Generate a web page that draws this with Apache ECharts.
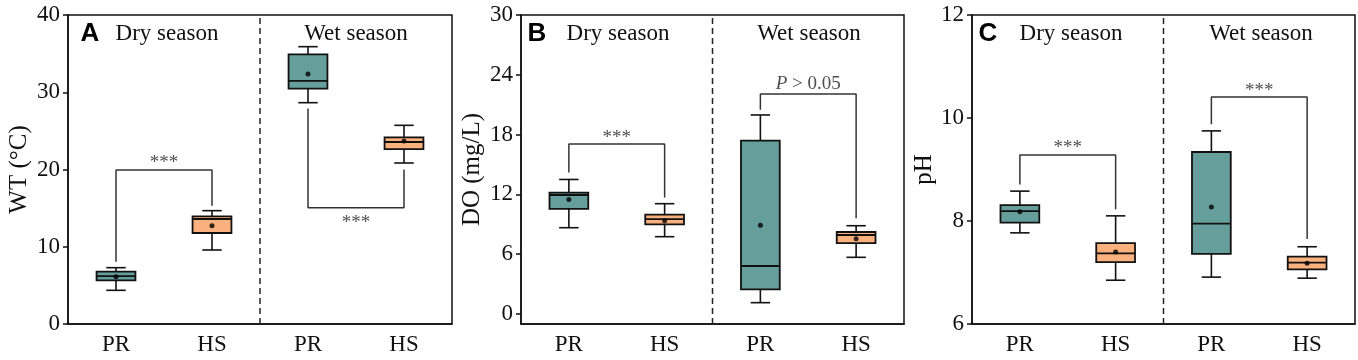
<!DOCTYPE html>
<html>
<head>
<meta charset="utf-8">
<script src="https://cdn.jsdelivr.net/npm/echarts@6/dist/echarts.min.js"></script>
<style>
  html, body { margin: 0; padding: 0; background: #fff; }
  #chart { width: 1358px; height: 360px; }
</style>
</head>
<body>
<div id="chart"></div>
<script>
// categories on every panel
var categories = ['PR', 'HS', 'PR', 'HS'];

// box stats: [low whisker, Q1, median, Q3, high whisker]
var wtBox = [[4.36, 5.65, 6.21, 6.77, 7.29], [9.58, 11.78, 13.59, 13.94, 14.67],
             [28.65, 30.46, 31.46, 34.9, 35.9], [20.84, 22.65, 23.56, 24.16, 25.72]];
var wtMean = [6.13, 12.73, 32.36, 23.69];

var doBox = [[8.66, 10.54, 11.94, 12.17, 13.5], [7.76, 9.0, 9.53, 9.97, 11.07],
             [1.14, 2.47, 4.82, 17.39, 19.97], [5.69, 7.12, 7.93, 8.23, 8.86]];
var doMean = [11.5, 9.36, 8.9, 7.56];

var phBox = [[7.77, 7.97, 8.19, 8.31, 8.58], [6.85, 7.20, 7.37, 7.57, 8.10],
             [6.91, 7.36, 7.95, 9.34, 9.75], [6.89, 7.06, 7.19, 7.31, 7.50]];
var phMean = [8.18, 7.40, 8.27, 7.18];

// brackets: [x0, leg0 end, bar level, x1, leg1 end]
var wtBrackets = [[0, 8.07, 19.94, 1, 15.3], [2, 27.9, 15.06, 3, 20.0]];
var doBrackets = [[0, 14.2, 17.06, 1, 11.7], [2, 20.5, 22.07, 3, 9.6]];
var phBrackets = [[0, 8.71, 9.28, 1, 8.23], [2, 9.88, 10.41, 3, 7.65]];

// significance labels: [x, y, text]
var wtSig = [[0.5, 20.8, '***'], [2.5, 13.07, '***']];
var doSig = [[0.5, 17.7, '***'], [2.5, 23.1, '{i|P} > 0.05']];
var phSig = [[0.5, 9.42, '***'], [2.5, 10.53, '***']];

// y axis ticks
var wtTicks = [0, 10, 20, 30, 40];
var doTicks = [0, 6, 12, 18, 24, 30];
var phTicks = [6, 8, 10, 12];

var TEAL = '#669e9b';
var ORANGE = '#fbb17d';
var INK = '#111';
var SERIF = '"Liberation Serif", "Times New Roman", serif';

var panels = [
  {name: 'WT (°C)', box: wtBox, mean: wtMean, br: wtBrackets, sig: wtSig, ticks: wtTicks, min: 0, max: 40,
   left: 68, width: 384, nameGap: 36, letter: 'A', letterX: 90, dryX: 167, wetX: 356},
  {name: 'DO (mg/L)', box: doBox, mean: doMean, br: doBrackets, sig: doSig, ticks: doTicks, min: -1, max: 30,
   left: 521, width: 383, nameGap: 36, letter: 'B', letterX: 537, dryX: 618, wetX: 809},
  {name: 'pH', box: phBox, mean: phMean, br: phBrackets, sig: phSig, ticks: phTicks, min: 6, max: 12,
   left: 972, width: 383, nameGap: 34, letter: 'C', letterX: 988, dryX: 1071, wetX: 1261}
];

function renderBox(params, api) {
  var x = api.value(0);
  var lo = api.coord([x, api.value(1)]);
  var q1 = api.coord([x, api.value(2)]);
  var md = api.coord([x, api.value(3)]);
  var q3 = api.coord([x, api.value(4)]);
  var hi = api.coord([x, api.value(5)]);
  var w = api.size([1, 0])[0] * 0.405;
  var cx = lo[0];
  var fill = x % 2 === 0 ? TEAL : ORANGE;
  var st = {stroke: INK, lineWidth: 1.6};
  return {
    type: 'group',
    children: [
      {type: 'line', shape: {x1: cx, y1: hi[1], x2: cx, y2: q3[1]}, style: st},
      {type: 'line', shape: {x1: cx, y1: q1[1], x2: cx, y2: lo[1]}, style: st},
      {type: 'line', shape: {x1: cx - w / 4, y1: hi[1], x2: cx + w / 4, y2: hi[1]}, style: st},
      {type: 'line', shape: {x1: cx - w / 4, y1: lo[1], x2: cx + w / 4, y2: lo[1]}, style: st},
      {type: 'rect', shape: {x: cx - w / 2, y: q3[1], width: w, height: q1[1] - q3[1]},
       style: {fill: fill, stroke: INK, lineWidth: 1.8}},
      {type: 'line', shape: {x1: cx - w / 2, y1: md[1], x2: cx + w / 2, y2: md[1]}, style: {stroke: INK, lineWidth: 1.8}}
    ]
  };
}

var grid = [], xAxis = [], yAxis = [], series = [], graphic = [];

panels.forEach(function (p, i) {
  grid.push({left: p.left, width: p.width, top: 15, height: 309,
    show: true, borderColor: INK, borderWidth: 1.5, backgroundColor: 'transparent'});

  // category axis for the boxes
  xAxis.push({
    type: 'category', gridIndex: i, data: categories,
    axisLine: {onZero: false, lineStyle: {color: INK, width: 1.5}},
    axisTick: {alignWithLabel: true, length: 5, lineStyle: {color: INK, width: 1.5}},
    axisLabel: {color: INK, fontFamily: SERIF, fontSize: 23, margin: 9}
  });
  // hidden value axis for brackets, divider and labels
  xAxis.push({type: 'value', gridIndex: i, min: -0.5, max: 3.5, show: false});

  yAxis.push({
    type: 'value', gridIndex: i, min: p.min, max: p.max,
    name: p.name, nameLocation: 'middle', nameGap: p.nameGap,
    nameTextStyle: {color: INK, fontFamily: SERIF, fontSize: 25},
    splitLine: {show: false},
    axisLine: {show: true, onZero: false, lineStyle: {color: INK, width: 1.5}},
    axisTick: {show: true, length: 5, customValues: p.ticks, lineStyle: {color: INK, width: 1.5}},
    axisLabel: {color: INK, fontFamily: SERIF, fontSize: 23, margin: 8, customValues: p.ticks}
  });

  series.push({
    type: 'custom', xAxisIndex: 2 * i, yAxisIndex: i,
    renderItem: renderBox,
    encode: {x: 0, y: [1, 2, 3, 4, 5]},
    data: p.box.map(function (b, k) { return [k].concat(b); }),
    z: 3
  });
  series.push({
    type: 'scatter', xAxisIndex: 2 * i, yAxisIndex: i,
    symbolSize: 5, itemStyle: {color: '#000'},
    data: p.mean.map(function (m, k) { return [k, m]; }),
    z: 5
  });

  // dashed divider between seasons
  series.push({
    type: 'line', xAxisIndex: 2 * i + 1, yAxisIndex: i,
    data: [[1.5, p.min], [1.5, p.max]], symbol: 'none',
    lineStyle: {color: '#222', width: 1.5, type: [6, 4]}, z: 2
  });

  p.br.forEach(function (b) {
    series.push({
      type: 'line', xAxisIndex: 2 * i + 1, yAxisIndex: i, symbol: 'none',
      data: [[b[0], b[1]], [b[0], b[2]], [b[3], b[2]], [b[3], b[4]]],
      lineStyle: {color: '#333', width: 1.5}, z: 2
    });
  });

  series.push({
    type: 'scatter', xAxisIndex: 2 * i + 1, yAxisIndex: i,
    symbolSize: 0,
    data: p.sig,
    label: {
      show: true, position: 'inside',
      formatter: function (d) { return d.value[2]; },
      color: '#222', fontFamily: SERIF, fontSize: 19,
      rich: {i: {fontStyle: 'italic', fontFamily: SERIF, fontSize: 19, color: '#222'}}
    },
    z: 6
  });

  graphic.push({type: 'text', x: p.letterX, y: 34,
    style: {text: p.letter, font: 'bold 26px "Liberation Sans", Arial, sans-serif', fill: '#000',
      textAlign: 'center', textVerticalAlign: 'middle'}});
  graphic.push({type: 'text', x: p.dryX, y: 34,
    style: {text: 'Dry season', font: '23px ' + SERIF, fill: INK, textAlign: 'center', textVerticalAlign: 'middle'}});
  graphic.push({type: 'text', x: p.wetX, y: 34,
    style: {text: 'Wet season', font: '23px ' + SERIF, fill: INK, textAlign: 'center', textVerticalAlign: 'middle'}});
});

var chart = echarts.init(document.getElementById('chart'));
chart.setOption({
  animation: false,
  backgroundColor: '#fff',
  grid: grid,
  xAxis: xAxis,
  yAxis: yAxis,
  series: series,
  graphic: graphic
});
</script>
</body>
</html>
